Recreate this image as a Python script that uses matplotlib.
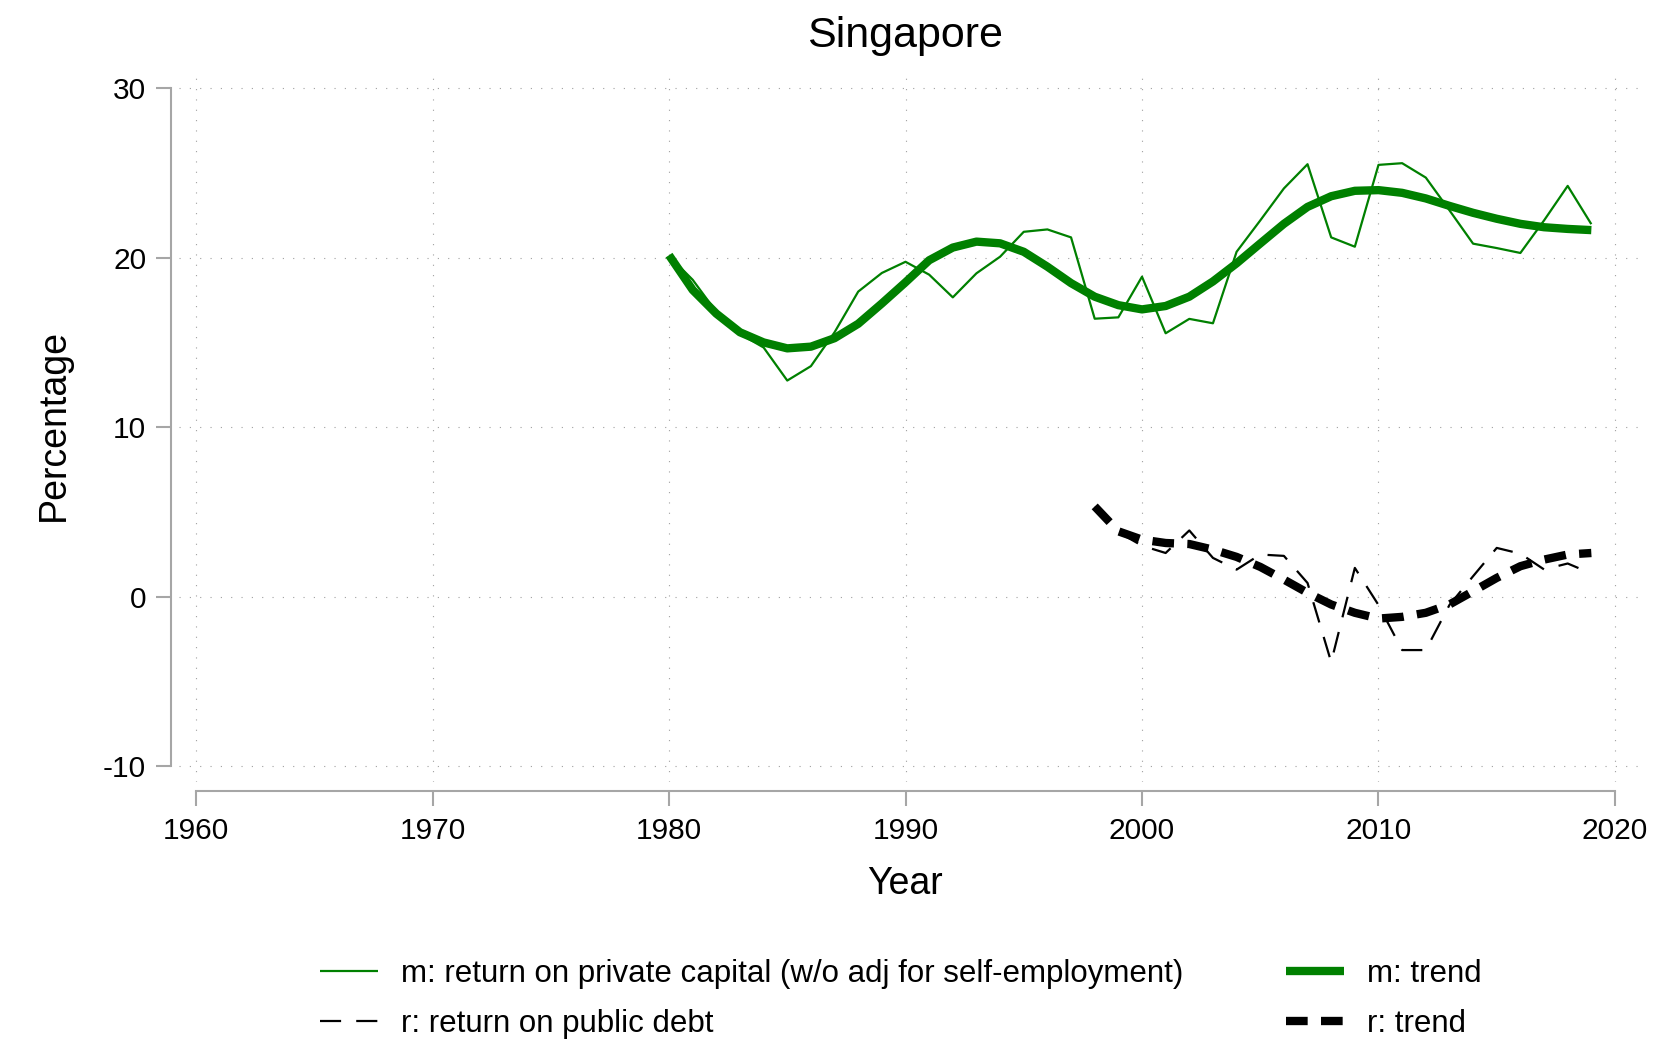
import numpy as np
import matplotlib
matplotlib.use("Agg")
import matplotlib.pyplot as plt

plt.rcParams["font.family"] = ["Liberation Sans", "DejaVu Sans"]
plt.rcParams["axes.unicode_minus"] = False

# -----------------------------
# Data
# -----------------------------
years_m = list(range(1980, 2020))
m_return = [20.1, 18.7, 16.8, 15.5, 14.7, 12.75, 13.6, 15.6, 18.0, 19.1,
            19.76, 19.0, 17.66, 19.08, 20.06, 21.53, 21.67, 21.2, 16.4, 16.48,
            18.88, 15.54, 16.39, 16.13, 20.35, 22.2, 24.09, 25.52, 21.2, 20.65,
            25.48, 25.58, 24.73, 22.8, 20.83, 20.57, 20.28, 22.2, 24.24, 21.98]
m_trend = [20.15, 18.1, 16.7, 15.6, 15.0, 14.65, 14.75, 15.25, 16.1, 17.3,
           18.55, 19.85, 20.6, 20.95, 20.85, 20.35, 19.47, 18.5, 17.7, 17.2,
           16.95, 17.15, 17.7, 18.6, 19.67, 20.84, 22.0, 23.0, 23.63, 23.95,
           23.99, 23.83, 23.5, 23.06, 22.65, 22.3, 22.0, 21.8, 21.7, 21.63]

years_r = list(range(1998, 2020))
r_return = [5.3, 3.8, 3.0, 2.57, 3.9, 2.28, 1.59, 2.48, 2.4, 0.8,
            -3.87, 1.69, -0.5, -3.16, -3.16, -0.5, 1.2, 2.87, 2.53, 1.6,
            1.95, 1.36]
r_trend = [5.32, 3.85, 3.36, 3.16, 3.1, 2.77, 2.34, 1.75, 1.0, 0.22,
           -0.47, -0.96, -1.3, -1.2, -0.96, -0.47, 0.31, 1.1, 1.79, 2.18,
           2.48, 2.57]

labels = ["m: return on private capital (w/o adj for self-employment)",
          "r: return on public debt",
          "m: trend",
          "r: trend"]

x_ticks = [1960, 1970, 1980, 1990, 2000, 2010, 2020]
y_ticks = [-10, 0, 10, 20, 30]

# -----------------------------
# Plot
# -----------------------------
green = "#008000"
axis_gray = "#a6a6a6"

fig = plt.figure(figsize=(16.6, 10.43), dpi=100)
ax = fig.add_axes([179 / 1660, 1 - 781.7 / 1043, (1641 - 179) / 1660, (781.7 - 69) / 1043])

h1, = ax.plot(years_m, m_return, color=green, lw=1.6, solid_capstyle="butt")
h2, = ax.plot(years_r, r_return, color="black", lw=1.6, linestyle=(0, (9.5, 6.8)))
h3, = ax.plot(years_m, m_trend, color=green, lw=6, solid_capstyle="butt")
h4, = ax.plot(years_r, r_trend, color="black", lw=6, linestyle=(0, (2.6, 1.6)))

ax.set_xlim(1959.28, 2021.1)
ax.set_ylim(-10.93, 31.14)
ax.set_xticks(x_ticks)
ax.set_yticks(y_ticks)

ax.grid(True, color="#a0a0a0", lw=0.8, linestyle=(0, (1, 8.3)))

for side in ["top", "right"]:
    ax.spines[side].set_visible(False)
ax.spines["left"].set_position(("outward", 5.8))
ax.spines["bottom"].set_position(("outward", 6.7))
ax.spines["left"].set_bounds(-10, 30)
ax.spines["bottom"].set_bounds(1960, 2020)
for side in ["left", "bottom"]:
    ax.spines[side].set_color(axis_gray)
    ax.spines[side].set_linewidth(1.5)

ax.tick_params(axis="both", length=10.8, width=1.5, color=axis_gray,
               labelsize=21.5, pad=7)
ax.tick_params(axis="x", pad=8.2)

ax.set_title("Singapore", fontsize=31, x=(905 - 179) / 1462, pad=16)
ax.set_xlabel("Year", fontsize=27)
ax.set_ylabel("Percentage", fontsize=27)
ax.xaxis.set_label_coords((905 - 179) / 1462, (781.7 - 865.5) / 712.7)
ax.yaxis.set_label_coords((72 - 179) / 1462, 0.5)

fig.legend([h1, h2, h3, h4], labels, ncol=2, frameon=False,
           loc="upper left", bbox_to_anchor=(320 / 1660, 1 - 959 / 1043),
           fontsize=22.5, handlelength=1.84, handletextpad=0.74,
           columnspacing=3.3, labelspacing=0.64, borderpad=0, borderaxespad=0)

fig.savefig("out.png", dpi=100)
